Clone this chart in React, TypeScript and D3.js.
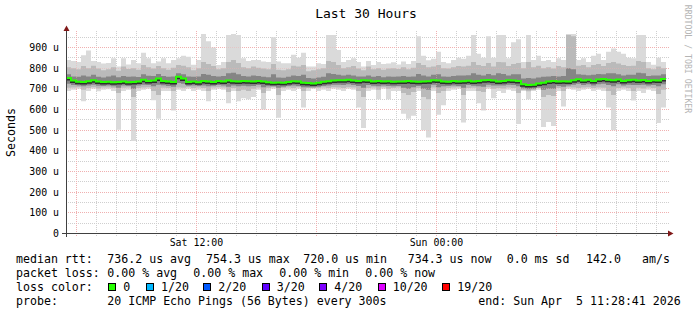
import React from "react";
import * as d3 from "d3";

const W = 697;
const H = 315;

// Time span shown: last 30 hours ending Sun Apr 5 11:28:41 2026
const START = new Date(2026, 3, 4, 5, 28, 41);
const END = new Date(2026, 3, 5, 11, 28, 41);
const STEP_MIN = 15; // one column per 15 minutes

// Smoke: highest ping per column (us)
const maxVals = [
  840, 835, 830, 862, 885, 835, 830, 822, 825, 848, 808, 848, 818, 840, 824, 875, 848, 824, 832, 848, 824, 840, 848, 860, 855, 816, 840, 965, 930, 900,
  815, 830, 960, 965, 960, 848, 835, 840, 840, 832, 830, 950, 832, 824, 824, 865, 850, 875, 808, 808, 824, 820, 960, 960, 888, 830, 840, 848, 830, 808,
  835, 815, 830, 820, 822, 828, 818, 832, 820, 835, 955, 860, 838, 845, 880, 830, 824, 840, 850, 845, 860, 960, 870, 850, 955, 850, 960, 960, 848, 925,
  940, 830, 960, 840, 860, 835, 840, 830, 848, 840, 965, 965, 840, 848, 830, 860, 870, 840, 880, 895, 880, 870, 850, 848, 960, 960, 830, 816, 850, 830,
];
// Smoke: lowest ping per column (us)
const minVals = [
  690, 695, 700, 640, 690, 700, 688, 695, 698, 690, 502, 690, 695, 447, 690, 695, 700, 645, 555, 690, 690, 595, 695, 690, 700, 690, 695, 690, 640, 695,
  700, 695, 630, 690, 640, 655, 650, 660, 695, 600, 690, 700, 560, 690, 695, 690, 700, 610, 690, 700, 690, 695, 690, 700, 695, 690, 700, 695, 610, 510,
  690, 695, 650, 700, 650, 690, 690, 580, 555, 570, 690, 500, 465, 690, 575, 620, 690, 695, 700, 537, 690, 690, 630, 595, 700, 655, 690, 680, 695, 690,
  530, 690, 650, 690, 695, 515, 540, 520, 690, 615, 700, 695, 690, 695, 700, 690, 695, 690, 610, 500, 690, 695, 690, 643, 690, 680, 695, 690, 535, 610,
];
// Smoke: upper bound of the middle pings (us)
const hiMidVals = [
  805, 800, 795, 810, 800, 812, 798, 790, 795, 805, 788, 808, 796, 800, 792, 815, 805, 798, 810, 800, 792, 802, 815, 812, 805, 790, 800, 830, 820, 810,
  795, 800, 830, 840, 825, 805, 800, 808, 802, 798, 795, 820, 792, 790, 795, 812, 808, 815, 785, 790, 795, 800, 835, 830, 815, 800, 805, 810, 798, 790,
  808, 795, 800, 792, 798, 800, 796, 805, 795, 802, 825, 815, 805, 808, 815, 800, 798, 805, 810, 808, 812, 830, 815, 810, 825, 808, 830, 828, 810, 820,
  825, 800, 830, 805, 812, 800, 805, 798, 810, 805, 960, 955, 812, 815, 805, 815, 820, 810, 825, 830, 822, 815, 810, 812, 835, 830, 800, 795, 808, 800,
];
// Smoke: lower bound of the middle pings (us)
const loMidVals = [
  705, 706, 708, 695, 704, 708, 702, 706, 707, 704, 680, 705, 706, 660, 704, 706, 708, 690, 670, 705, 704, 690, 707, 705, 708, 704, 706, 704, 690, 706,
  708, 706, 685, 704, 690, 695, 690, 700, 706, 680, 704, 708, 670, 704, 706, 704, 708, 690, 704, 708, 704, 706, 704, 708, 706, 704, 708, 706, 690, 660,
  704, 706, 695, 708, 700, 704, 706, 680, 670, 685, 704, 660, 650, 706, 680, 690, 704, 706, 708, 670, 704, 705, 690, 685, 708, 700, 704, 702, 706, 704,
  680, 694, 688, 694, 704, 660, 670, 665, 704, 690, 708, 706, 704, 706, 708, 704, 706, 705, 690, 670, 704, 706, 704, 690, 705, 702, 706, 704, 675, 695,
];
// Smoke: upper bound of the core pings (us)
const hiDarkVals = [
  770, 760, 758, 765, 760, 768, 758, 755, 760, 765, 756, 762, 758, 760, 757, 770, 763, 762, 772, 762, 758, 760, 775, 770, 760, 758, 760, 772, 768, 762,
  760, 762, 775, 778, 770, 762, 760, 765, 762, 758, 756, 770, 755, 754, 758, 765, 762, 768, 752, 750, 755, 758, 775, 772, 768, 765, 768, 765, 760, 760,
  765, 758, 762, 756, 760, 758, 760, 762, 758, 760, 772, 765, 760, 768, 770, 760, 758, 762, 765, 764, 766, 775, 768, 765, 772, 766, 775, 772, 765, 770,
  770, 750, 752, 750, 755, 758, 760, 762, 760, 762, 800, 795, 770, 768, 766, 768, 772, 770, 775, 775, 770, 765, 768, 768, 778, 775, 762, 764, 765, 770,
];
// Smoke: lower bound of the core pings (us)
const loDarkVals = [
  725, 718, 716, 712, 716, 720, 715, 714, 716, 713, 705, 716, 714, 700, 716, 720, 718, 712, 720, 717, 714, 710, 728, 724, 715, 716, 714, 716, 712, 715,
  718, 716, 710, 716, 712, 715, 712, 714, 718, 708, 712, 712, 705, 710, 714, 716, 714, 708, 708, 706, 710, 714, 716, 720, 720, 718, 722, 718, 714, 705,
  718, 715, 712, 716, 714, 712, 714, 705, 700, 708, 714, 700, 695, 720, 708, 712, 714, 716, 714, 705, 718, 715, 712, 710, 720, 716, 716, 716, 720, 718,
  712, 702, 698, 700, 706, 696, 700, 700, 714, 710, 716, 720, 724, 718, 722, 716, 722, 724, 718, 712, 722, 716, 720, 718, 718, 720, 716, 718, 712, 722,
];
// Median RTT per column (us)
const medianVals = [
  752, 740, 734, 733, 737, 742, 735, 733, 734, 732, 733, 735, 732, 733, 735, 744, 738, 740, 750, 738, 735, 733, 758, 750, 733, 736, 732, 738, 735, 733,
  738, 736, 740, 737, 735, 738, 737, 735, 738, 736, 732, 730, 731, 729, 733, 737, 735, 730, 728, 726, 729, 734, 737, 740, 742, 741, 744, 740, 738, 741,
  740, 736, 738, 735, 737, 734, 736, 735, 738, 736, 734, 735, 737, 742, 740, 736, 734, 738, 735, 737, 739, 736, 738, 741, 743, 740, 736, 738, 742, 740,
  738, 722, 718, 720, 726, 730, 735, 738, 736, 737, 735, 742, 746, 740, 744, 738, 745, 748, 744, 742, 745, 738, 742, 744, 740, 743, 738, 741, 740, 748,
];

const yTickValues = [0, 100, 200, 300, 400, 500, 600, 700, 800, 900];

const legendRtt = [
  { text: "median rtt:", x: 16 },
  { text: "736.2 us avg", x: 107.3 },
  { text: "754.3 us max", x: 206 },
  { text: "720.0 us min", x: 303.3 },
  { text: "734.3 us now", x: 407.7 },
  { text: "0.0 ms sd", x: 506.7 },
  { text: "142.0", x: 586 },
  { text: "am/s", x: 642 },
];
const legendLoss = [
  { text: "packet loss:", x: 16 },
  { text: "0.00 % avg", x: 107.3 },
  { text: "0.00 % max", x: 193.3 },
  { text: "0.00 % min", x: 279.3 },
  { text: "0.00 % now", x: 365.3 },
];
const lossLabels = ["0", "1/20", "2/20", "3/20", "4/20", "10/20", "19/20"];
const lossColors = ["#26ff00", "#00b8ff", "#0059ff", "#5e00ff", "#7e00ff", "#dd00ff", "#ff0000"];
const lossBoxX = [108.3, 146, 203.3, 261.7, 319.3, 377.7, 442.3];

const FONT = "'DejaVu Sans Mono', 'Liberation Mono', monospace";

export default function App() {
  const x = d3.scaleTime().domain([START, END]).range([66, 666]);
  const y = d3.scaleLinear().domain([0, 967.7]).range([233.5, 33.5]);
  const n = medianVals.length;
  const times = d3.range(n + 1).map((i) => d3.timeMinute.offset(START, i * STEP_MIN));
  const idx = d3.range(n + 1);
  const at = (arr: number[], i: number) => arr[Math.min(i, n - 1)];
  const band = (lo: number[], hi: number[]) =>
    d3
      .area<number>()
      .curve(d3.curveStepAfter)
      .x((i) => x(times[i]))
      .y0((i) => y(at(lo, i)))
      .y1((i) => y(at(hi, i)))(idx) || "";
  const medLine =
    d3
      .line<number>()
      .curve(d3.curveStepAfter)
      .x((i) => x(times[i]))
      .y((i) => y(at(medianVals, i)))(idx) || "";

  const crisp = (v: number) => Math.floor(v) + 0.5;
  const hours = d3.timeHour.range(START, END);
  const labelTimes = d3.timeHour.every(12)!.range(START, END);
  const fmt = d3.timeFormat("%a %H:%M");
  const minorY = d3.range(50, 951, 100);
  const majorY = d3.range(100, 901, 100);

  const gridMinor = "#cfcfcf";
  const gridMajor = "#f0b0b0";
  const axisColor = "#404040";
  const arrowColor = "#801818";

  return (
    <svg
      width={W}
      height={H}
      viewBox={`0 0 ${W} ${H}`}
      style={{ position: "absolute", left: 0, top: 0, background: "#fff", display: "block" }}
      fontFamily={FONT}
    >
      <rect x={0} y={0} width={W} height={H} fill="#ffffff" />
      {/* title */}
      <text x={366} y={18} fontSize={13} textAnchor="middle" fill="#000">
        Last 30 Hours
      </text>
      <text
        transform="translate(688,59) rotate(90)"
        fontSize={8.2}
        textAnchor="middle"
        dominantBaseline="central"
        fill="#b4b4b4"
      >
        RRDTOOL / TOBI OETIKER
      </text>
      <text
        transform="translate(10.5,132.5) rotate(-90)"
        fontSize={11.6}
        textAnchor="middle"
        dominantBaseline="central"
        fill="#000"
      >
        Seconds
      </text>

      {/* grid behind */}
      <g shapeRendering="crispEdges" strokeWidth={1} strokeDasharray="1,1">
        {minorY.map((v) => (
          <line key={"hy" + v} x1={66} x2={669} y1={crisp(y(v))} y2={crisp(y(v))} stroke={gridMinor} />
        ))}
        {hours
          .filter((t) => t.getHours() % 6 !== 0)
          .map((t) => (
            <line key={"vx" + t.getTime()} x1={crisp(x(t))} x2={crisp(x(t))} y1={31} y2={236} stroke={gridMinor} />
          ))}
        {majorY.map((v) => (
          <line key={"my" + v} x1={66} x2={669} y1={crisp(y(v))} y2={crisp(y(v))} stroke={gridMajor} />
        ))}
        {hours
          .filter((t) => t.getHours() % 6 === 0)
          .map((t) => (
            <line key={"mx" + t.getTime()} x1={crisp(x(t))} x2={crisp(x(t))} y1={31} y2={236} stroke={gridMajor} />
          ))}
      </g>

      {/* smoke */}
      <path d={band(minVals, maxVals)} fill="#dadada" />
      <path d={band(loMidVals, hiMidVals)} fill="#bababa" />
      <path d={band(loDarkVals, hiDarkVals)} fill="#858585" />

      {/* grid over smoke, faint */}
      <g shapeRendering="crispEdges" strokeWidth={1} strokeDasharray="1,1" opacity={0.45}>
        {majorY.map((v) => (
          <line key={"my2" + v} x1={66} x2={669} y1={crisp(y(v))} y2={crisp(y(v))} stroke={gridMajor} />
        ))}
        {hours
          .filter((t) => t.getHours() % 6 === 0)
          .map((t) => (
            <line key={"mx2" + t.getTime()} x1={crisp(x(t))} x2={crisp(x(t))} y1={31} y2={236} stroke={gridMajor} />
          ))}
      </g>

      {/* median */}
      <path d={medLine} fill="none" stroke="#2e2e2e" strokeWidth={2} transform="translate(0,1.5)" />
      <path d={medLine} fill="none" stroke={lossColors[0]} strokeWidth={2} />

      {/* axes */}
      <g shapeRendering="crispEdges">
        <line x1={62} x2={669} y1={233.5} y2={233.5} stroke={axisColor} />
        <line x1={66.5} x2={66.5} y1={237} y2={30} stroke={axisColor} />
      </g>
      <path d="M668,230.5 L673.5,233.5 L668,236.5 Z" fill={arrowColor} />
      <path d="M63.5,31 L66.5,25.5 L69.5,31 Z" fill={arrowColor} />

      {/* y tick labels */}
      {yTickValues.map((v) => (
        <text
          key={"yl" + v}
          x={59}
          y={y(v)}
          fontSize={9.9}
          textAnchor="end"
          dominantBaseline="central"
          fill="#000"
        >
          {v === 0 ? "0" : `${v} u`}
        </text>
      ))}
      {/* x tick labels */}
      {labelTimes.map((t) => (
        <text key={"xl" + t.getTime()} x={x(t)} y={246} fontSize={9.9} textAnchor="middle" fill="#000">
          {fmt(t)}
        </text>
      ))}

      {/* legend */}
      <g fontSize={11.6} fill="#000">
        {legendRtt.map((s) => (
          <text key={"r" + s.x} x={s.x} y={263}>
            {s.text}
          </text>
        ))}
        {legendLoss.map((s) => (
          <text key={"l" + s.x} x={s.x} y={277}>
            {s.text}
          </text>
        ))}
        <text x={16} y={291}>
          loss color:
        </text>
        {lossLabels.map((lab, i) => (
          <g key={"lc" + lab}>
            <rect
              x={Math.round(lossBoxX[i]) + 0.5}
              y={283.5}
              width={7}
              height={7}
              fill={lossColors[i]}
              stroke="#000"
              strokeWidth={1}
              shapeRendering="crispEdges"
            />
            <text x={lossBoxX[i] + 15} y={291}>
              {lab}
            </text>
          </g>
        ))}
        <text x={16} y={305}>
          probe:
        </text>
        <text x={107.3} y={305}>
          20 ICMP Echo Pings (56 Bytes) every 300s
        </text>
        <text x={478.3} y={305} style={{ whiteSpace: "pre" }}>
          {"end: Sun Apr  5 11:28:41 2026"}
        </text>
      </g>
    </svg>
  );
}
